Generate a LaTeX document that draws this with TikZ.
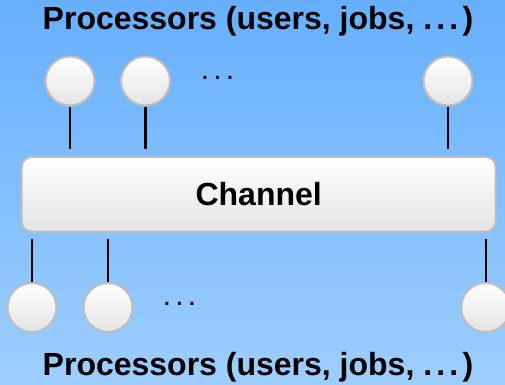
\documentclass[tikz,border=0pt]{standalone}
\usepackage{fontspec}
\setmainfont{Liberation Sans}
\definecolor{bgtop}{RGB}{103,175,253}
\definecolor{bgbot}{RGB}{157,206,253}
\definecolor{rimgray}{RGB}{190,190,190}
\definecolor{shadegray}{RGB}{228,228,228}
% spaced dots, as in a classic \ldots
\newcommand{\spdots}{.\kern4.2pt.\kern4.2pt.}
\tikzset{
  proc/.style={circle, draw=rimgray, line width=2pt, minimum size=49pt,
    inner sep=0pt, top color=white, bottom color=shadegray},
  chanbox/.style={rectangle, draw=rimgray, line width=2pt, rounded corners=10pt,
    minimum width=474pt, minimum height=74.7pt, inner sep=0pt,
    top color=white, bottom color=shadegray,
    font=\fontsize{32}{38}\selectfont\bfseries},
  link/.style={line width=2.2pt, black},
  title/.style={anchor=base, inner sep=0pt, font=\fontsize{32}{38}\selectfont\bfseries},
  more/.style={anchor=base, inner sep=0pt, font=\fontsize{30}{36}\selectfont}
}
\begin{document}
\begin{tikzpicture}[x=1pt,y=1pt]
  % backdrop
  \shade[top color=bgtop, bottom color=bgbot] (0,0) rectangle (505,384);
  \useasboundingbox (0,0) rectangle (505,384);

  % shared channel
  \node[chanbox] (chan) at (258.7,189.7) {Channel};

  % upper row of processors
  \node[proc] (t1) at (70,303) {};
  \node[proc] (t2) at (145.5,303) {};
  \node[proc] (t3) at (448,303) {};
  \node[more] (tdots) at (217.5,305) {\spdots};
  \coordinate (t1e) at (70,235.3);
  \coordinate (t2e) at (145.5,235.3);
  \coordinate (t3e) at (448,235.3);
  \draw[link] (t1.south) -- (t1e);
  \draw[link] (t2.south) -- (t2e);
  \draw[link] (t3.south) -- (t3e);

  % lower row of processors
  \node[proc] (b1) at (32,76.5) {};
  \node[proc] (b2) at (108,76.5) {};
  \node[proc] (b3) at (485.7,76.5) {};
  \node[more] (bdots) at (179.5,78.5) {\spdots};
  \coordinate (b1e) at (32,145);
  \coordinate (b2e) at (108,145);
  \coordinate (b3e) at (485.7,145);
  \draw[link] (b1.north) -- (b1e);
  \draw[link] (b2.north) -- (b2e);
  \draw[link] (b3.north) -- (b3e);

  % captions
  \node[title] (ttitle) at (258,354.7) {Processors (users, jobs, \spdots\kern4.2pt)};
  \node[title] (btitle) at (258,8.3) {Processors (users, jobs, \spdots\kern4.2pt)};
\end{tikzpicture}
\end{document}
